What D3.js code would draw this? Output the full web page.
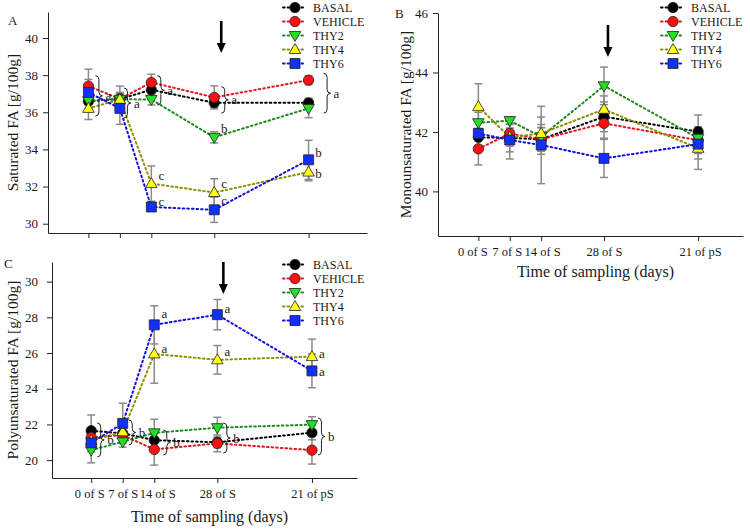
<!DOCTYPE html>
<html><head><meta charset="utf-8">
<script src="https://cdn.jsdelivr.net/npm/d3@7"></script>
<style>
body{margin:0;background:#fff;}
svg{display:block;}
text{font-family:"Liberation Serif","Times New Roman",serif;fill:#1a1a1a;}
</style></head><body>
<svg id="chart" width="750" height="530"></svg>
<script>
// ---------- data ----------
const categories = ["0 of S", "7 of S", "14 of S", "28 of S", "21 of pS"];
const days = [0, 7, 14, 28, 49];
const seriesNames = ["BASAL", "VEHICLE", "THY2", "THY4", "THY6"];

// A: saturated FA
const satBASAL   = [36.60, 36.72, 37.21, 36.51, 36.51];
const satVEHICLE = [37.41, 36.72, 37.61, 36.80, 37.73];
const satTHY2    = [36.62, 36.70, 36.69, 34.65, 36.21];
const satTHY4    = [36.21, 36.69, 32.16, 31.68, 32.78];
const satTHY6    = [37.07, 36.21, 30.90, 30.75, 33.44];
const satErrBASAL   = [0.50, 0.30, 0.20, 0.25, 0.24];
const satErrVEHICLE = [0.91, 0.69, 0.44, 0.62, 0.24];
const satErrTHY2    = [0.40, 0.30, 0.30, 0.30, 0.50];
const satErrTHY4    = [0.60, 0.30, 0.95, 0.74, 0.47];
const satErrTHY6    = [0.70, 0.86, 0.15, 0.68, 1.05];

// B: monounsaturated FA
const monoBASAL   = [41.82, 41.80, 41.75, 42.51, 42.01];
const monoVEHICLE = [41.43, 41.95, 41.75, 42.29, 41.72];
const monoTHY2    = [42.31, 42.38, 41.84, 43.55, 41.79];
const monoTHY4    = [42.85, 41.82, 41.95, 42.76, 41.45];
const monoTHY6    = [41.95, 41.73, 41.56, 41.11, 41.59];
const monoErrBASAL   = [0.30, 0.71, 0.50, 0.50, 0.56];
const monoErrVEHICLE = [0.54, 0.30, 0.40, 0.50, 0.45];
const monoErrTHY2    = [0.35, 0.11, 0.30, 0.63, 0.30];
const monoErrTHY4    = [0.77, 0.30, 0.55, 0.45, 0.71];
const monoErrTHY6    = [0.40, 0.40, 1.30, 0.64, 0.50];

// C: polyunsaturated FA
const polyBASAL   = [21.65, 21.50, 21.12, 21.00, 21.54];
const polyVEHICLE = [21.27, 21.40, 20.60, 20.94, 20.56];
const polyTHY2    = [20.56, 21.03, 21.53, 21.82, 21.99];
const polyTHY4    = [21.10, 21.59, 25.95, 25.62, 25.80];
const polyTHY6    = [20.97, 22.06, 27.58, 28.15, 25.00];
const polyErrBASAL   = [0.88, 0.40, 0.40, 0.30, 0.40];
const polyErrVEHICLE = [0.50, 0.40, 0.88, 0.47, 0.78];
const polyErrTHY2    = [0.71, 0.30, 0.76, 0.58, 0.44];
const polyErrTHY4    = [0.50, 0.50, 1.64, 0.80, 0.98];
const polyErrTHY6    = [0.50, 1.13, 1.07, 0.85, 0.94];

// tick values
const satTicks  = [30, 32, 34, 36, 38, 40];
const monoTicks = [40, 42, 44, 46];
const polyTicks = [20, 22, 24, 26, 28, 30];

// significance annotations (brace: day, top value, bottom value, letter)
const satBraces  = [[0, 37.97, 35.80, "a"], [7, 37.31, 35.69, "a"], [14, 37.97, 36.39, "a"], [28, 37.38, 35.95, "a"], [49, 38.10, 35.95, "a"]];
const polyBraces = [[0, 22.08, 20.18, "b"], [7, 22.25, 20.85, "b"], [14, 21.69, 20.29, "b"], [28, 22.08, 20.40, "b"], [49, 22.36, 20.29, "b"]];
// single letters: day, value, letter
const satLetters  = [[14, 32.57, "c"], [14, 31.22, "c"], [28, 35.15, "b"], [28, 32.19, "c"], [28, 31.24, "c"], [49, 33.81, "b"], [49, 32.73, "b"]];
const polyLetters = [[14, 28.24, "a"], [14, 26.28, "a"], [28, 28.47, "a"], [28, 26.06, "a"], [49, 25.95, "a"], [49, 24.99, "a"]];

// ---------- styles ----------
const lineColors   = ["#000000", "#e8141c", "#1f8a1f", "#8f8f00", "#1010e0"];
const markerFills  = ["#000000", "#ff1010", "#22e022", "#ffff10", "#1030ff"];
const markerShapes = ["circle", "circle", "triDown", "triUp", "square"];

const svg = d3.select("#chart");

function markerPath(shape) {
  if (shape === "circle") return d3.symbol(d3.symbolCircle, 84)();
  if (shape === "square") return "M-5,-5H5V5H-5Z";
  if (shape === "triUp") return "M0,-6L5.8,4L-5.8,4Z";
  return "M0,6L5.8,-4L-5.8,-4Z";
}

function bracePath(x, y1, y2, w) {
  const m = (y1 + y2) / 2, r = Math.min(4, (y2 - y1) / 4), h = x + w / 2;
  return `M${x},${y1} Q${h},${y1} ${h},${y1 + r} L${h},${m - r} Q${h},${m} ${x + w},${m} ` +
         `Q${h},${m} ${h},${m + r} L${h},${y2 - r} Q${h},${y2} ${x},${y2}`;
}

const panels = [
  { id: "A", vals: [satBASAL, satVEHICLE, satTHY2, satTHY4, satTHY6],
    errs: [satErrBASAL, satErrVEHICLE, satErrTHY2, satErrTHY4, satErrTHY6],
    xDom: [-9, 62], xRange: [48, 367], yDom: [29.5, 41.4], yRange: [233, 12], ticks: satTicks,
    xLabels: false, labelDx: [0, 0, 0, 0, 0], yTitle: "Saturated FA [g/100g]", yTitleX: 12, labelX: 8, labelY: 25,
    legX: 283, legY: 7.5, arrowDx: 7, arrowY: [21, 53], tickPad: 5,
    braces: satBraces, braceDx: [7, 4, 6, 7, 15], letters: satLetters },
  { id: "B", vals: [monoBASAL, monoVEHICLE, monoTHY2, monoTHY4, monoTHY6],
    errs: [monoErrBASAL, monoErrVEHICLE, monoErrTHY2, monoErrTHY4, monoErrTHY6],
    xDom: [-9, 59], xRange: [438, 743], yDom: [38.5, 46], yRange: [236, 13], ticks: monoTicks,
    xLabels: true, labelDx: [-6, -3, 1, 0, 2], yTitle: "Monounsaturated FA [g/100g]", yTitleX: 405, labelX: 395, labelY: 18,
    legX: 661, legY: 7.5, arrowDx: 4, arrowY: [25, 57], tickPad: 5, titleY: 277,
    braces: [], braceDx: [], letters: [] },
  { id: "C", vals: [polyBASAL, polyVEHICLE, polyTHY2, polyTHY4, polyTHY6],
    errs: [polyErrBASAL, polyErrVEHICLE, polyErrTHY2, polyErrTHY4, polyErrTHY6],
    xDom: [-8.7, 59], xRange: [52, 357], yDom: [19, 31.1], yRange: [478, 262], ticks: polyTicks,
    xLabels: true, labelDx: [-2, 0, 3, 0, 0], yTitle: "Polyunsaturated FA [g/100g]", yTitleX: 12, labelX: 4, labelY: 268,
    legX: 283, legY: 264.5, arrowDx: 6, arrowY: [262, 294], tickPad: 9, titleY: 522,
    braces: polyBraces, braceDx: [6, 6, 9, 6, 6], letters: polyLetters }
];

panels.forEach(p => {
  const x = d3.scaleLinear().domain(p.xDom).range(p.xRange);
  const y = d3.scaleLinear().domain(p.yDom).range(p.yRange);
  const g = svg.append("g");

  // axes
  const ya = g.append("g").attr("transform", `translate(${p.xRange[0]},0)`)
    .call(d3.axisLeft(y).tickValues(p.ticks).tickSize(5).tickSizeOuter(0).tickPadding(p.tickPad).tickFormat(d3.format("d")));
  ya.selectAll("text").style("font-size", "13px").style("font-family", "Liberation Serif");
  const xa = g.append("g").attr("transform", `translate(0,${p.yRange[0]})`)
    .call(d3.axisBottom(x).tickValues(days).tickSize(5).tickSizeOuter(0).tickPadding(6)
      .tickFormat((d, i) => p.xLabels ? categories[i] : ""));
  xa.selectAll("text").style("font-size", "12.5px").style("font-family", "Liberation Serif")
    .attr("dx", (d, i) => p.labelDx[i]);
  g.selectAll(".domain").attr("stroke", "#222");
  g.selectAll(".tick line").attr("stroke", "#222");

  // y title
  const ymid = (p.yRange[0] + p.yRange[1]) / 2;
  g.append("text").attr("transform", `translate(${p.yTitleX},${ymid}) rotate(-90)`)
    .attr("text-anchor", "middle").attr("dominant-baseline", "central")
    .style("font-size", "15.5px").text(p.yTitle);
  if (p.titleY) {
    g.append("text").attr("x", (p.xRange[0] + p.xRange[1]) / 2 + 5).attr("y", p.titleY)
      .attr("text-anchor", "middle").style("font-size", "16px").text("Time of sampling (days)");
  }
  g.append("text").attr("x", p.labelX).attr("y", p.labelY).style("font-size", "13px").text(p.id);

  // error bars
  p.vals.forEach((vals, si) => {
    vals.forEach((v, i) => {
      const e = p.errs[si][i], cx = x(days[i]);
      const eg = g.append("g").attr("stroke", "#8a8a8a").attr("stroke-width", 1.5).attr("fill", "none");
      eg.append("line").attr("x1", cx).attr("x2", cx).attr("y1", y(v + e)).attr("y2", y(v - e));
      eg.append("line").attr("x1", cx - 4).attr("x2", cx + 4).attr("y1", y(v + e)).attr("y2", y(v + e));
      eg.append("line").attr("x1", cx - 4).attr("x2", cx + 4).attr("y1", y(v - e)).attr("y2", y(v - e));
    });
  });

  // lines
  p.vals.forEach((vals, si) => {
    g.append("path").datum(vals)
      .attr("d", d3.line().x((d, i) => x(days[i])).y(d => y(d)))
      .attr("fill", "none").attr("stroke", lineColors[si]).attr("stroke-width", 2)
      .attr("stroke-dasharray", "1.6,3").attr("stroke-linecap", "round");
  });

  // markers
  p.vals.forEach((vals, si) => {
    g.selectAll(null).data(vals).enter().append("path")
      .attr("transform", (d, i) => `translate(${x(days[i])},${y(d)})`)
      .attr("d", markerPath(markerShapes[si]))
      .attr("fill", markerFills[si]).attr("stroke", "#222").attr("stroke-width", 0.8);
  });

  // braces
  p.braces.forEach((b, i) => {
    const bx = x(b[0]) + p.braceDx[i];
    g.append("path").attr("d", bracePath(bx, y(b[1]), y(b[2]), 7))
      .attr("fill", "none").attr("stroke", "#222").attr("stroke-width", 1);
    g.append("text").attr("x", bx + 10).attr("y", (y(b[1]) + y(b[2])) / 2)
      .attr("dominant-baseline", "central").style("font-size", "13px").text(b[3]);
  });
  p.letters.forEach(l => {
    g.append("text").attr("x", x(l[0]) + 10).attr("y", y(l[1]))
      .attr("text-anchor", "middle").attr("dominant-baseline", "central")
      .style("font-size", "13px").text(l[2]);
  });

  // arrow at 28 of S
  const ax = x(28) + p.arrowDx;
  g.append("line").attr("x1", ax).attr("x2", ax).attr("y1", p.arrowY[0]).attr("y2", p.arrowY[1] - 8)
    .attr("stroke", "#000").attr("stroke-width", 2.6);
  g.append("path").attr("d", `M${ax - 4.5},${p.arrowY[1] - 10}L${ax + 4.5},${p.arrowY[1] - 10}L${ax},${p.arrowY[1]}Z`)
    .attr("fill", "#000");

  // legend
  seriesNames.forEach((name, si) => {
    const ly = p.legY + si * 14;
    g.append("line").attr("x1", p.legX).attr("x2", p.legX + 22).attr("y1", ly).attr("y2", ly)
      .attr("stroke", lineColors[si]).attr("stroke-width", 2)
      .attr("stroke-dasharray", "1.6,3").attr("stroke-linecap", "round");
    g.append("path").attr("transform", `translate(${p.legX + 12},${ly})`)
      .attr("d", markerPath(markerShapes[si]))
      .attr("fill", markerFills[si]).attr("stroke", "#222").attr("stroke-width", 0.8);
    g.append("text").attr("x", p.legX + 30).attr("y", ly).attr("dominant-baseline", "central")
      .style("font-size", "12px").text(name);
  });
});
</script>
</body></html>
